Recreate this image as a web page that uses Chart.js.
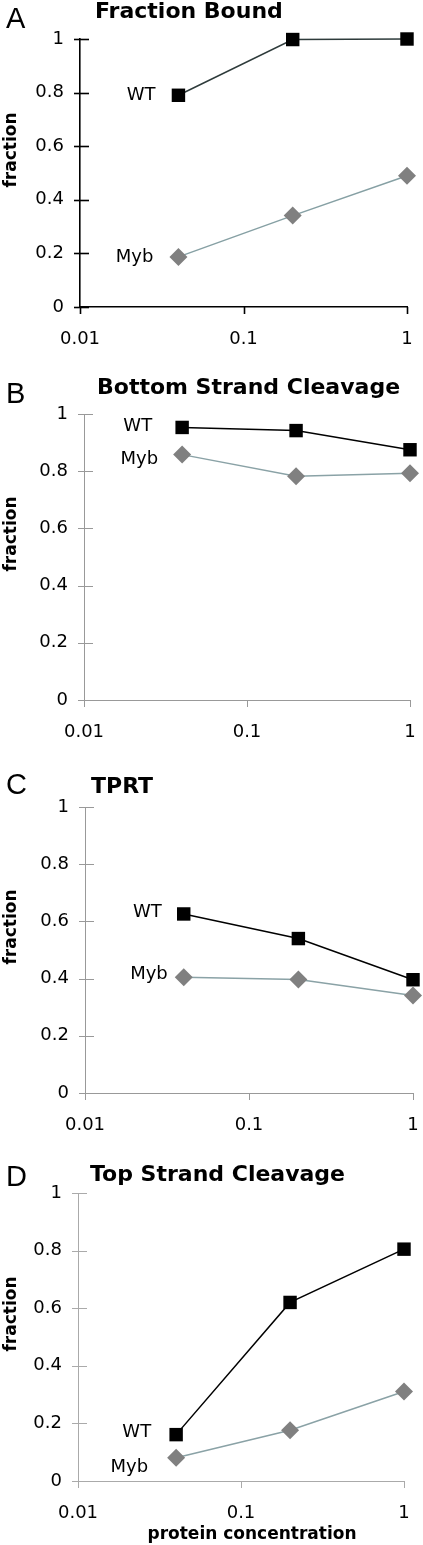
<!DOCTYPE html>
<html>
<head>
<meta charset="utf-8">
<script src="https://cdn.jsdelivr.net/npm/chart.js@4.4.1/dist/chart.umd.min.js"></script>
<style>
  body { margin: 0; background: #fff; width: 423px; height: 1545px; position: relative; overflow: hidden; }
  .panel { position: absolute; left: 0; width: 423px; }
</style>
</head>
<body>
<div class="panel" style="top:0;height:360px"><canvas id="chartA"></canvas></div>
<div class="panel" style="top:370px;height:375px"><canvas id="chartB"></canvas></div>
<div class="panel" style="top:750px;height:395px"><canvas id="chartC"></canvas></div>
<div class="panel" style="top:1150px;height:395px"><canvas id="chartD"></canvas></div>
<script>
// datos
const concentrations = [0.04, 0.2, 1];
const xTickValues = [0.01, 0.1, 1];
const yTickValues = [0, 0.2, 0.4, 0.6, 0.8, 1];
const seriesNames = ['WT', 'Myb'];
const panelLetters = ['A', 'B', 'C', 'D'];
const panelTitles = ['Fraction Bound', 'Bottom Strand Cleavage', 'TPRT', 'Top Strand Cleavage'];
const yAxisTitle = 'fraction';
const xAxisTitle = 'protein concentration';

const wtBound = [0.79, 0.998, 1.0];
const mybBound = [0.187, 0.341, 0.49];
const wtBottom = [0.953, 0.942, 0.875];
const mybBottom = [0.858, 0.782, 0.793];
const wtTprt = [0.626, 0.540, 0.396];
const mybTprt = [0.405, 0.397, 0.341];
const wtTop = [0.161, 0.620, 0.805];
const mybTop = [0.081, 0.176, 0.311];

const FONT = '"DejaVu Sans", Verdana, sans-serif';
Chart.defaults.font.family = FONT;
Chart.defaults.font.size = 18;
Chart.defaults.color = '#000';

const Y_W = 50, X_H = 45;

// anotaciones: letra, titulo, titulos de ejes y etiquetas WT/Myb
function annotPlugin(p) {
  return {
    id: 'annot' + p.letter,
    afterDraw(chart) {
      const ctx = chart.ctx, area = chart.chartArea;
      const xs = chart.scales.x, ys = chart.scales.y;
      ctx.save();
      // marcas de los ejes
      ctx.strokeStyle = p.axisColor;
      ctx.lineWidth = p.axisWidth;
      ys.ticks.forEach(t => {
        const py = Math.round(ys.getPixelForValue(t.value)) + 0.5;
        ctx.beginPath(); ctx.moveTo(area.left - 6, py); ctx.lineTo(area.left + 9, py); ctx.stroke();
      });
      xs.ticks.forEach(t => {
        const px = Math.round(xs.getPixelForValue(t.value)) + 0.5;
        ctx.beginPath(); ctx.moveTo(px, area.bottom); ctx.lineTo(px, area.bottom + 7); ctx.stroke();
      });
      ctx.fillStyle = '#000';
      ctx.textBaseline = 'alphabetic';
      ctx.textAlign = 'left';
      ctx.font = '29px "Liberation Sans", Arial, sans-serif';
      ctx.fillText(p.letter, 6, p.letterY);
      ctx.font = 'bold 22px ' + FONT;
      ctx.fillText(p.title, p.titleX, p.titleY);
      // titulo eje y
      ctx.save();
      ctx.font = 'bold 17px ' + FONT;
      ctx.translate(12, (area.top + area.bottom) / 2 - 23);
      ctx.rotate(-Math.PI / 2);
      ctx.textAlign = 'center';
      ctx.textBaseline = 'middle';
      ctx.fillText(yAxisTitle, 0, 0);
      ctx.restore();
      if (p.showXTitle) {
        ctx.font = 'bold 17px ' + FONT;
        ctx.textAlign = 'center';
        ctx.fillText(xAxisTitle, (area.left + area.right) / 2 + 11, p.xTitleY);
      }
      // etiquetas de las series junto al primer punto
      ctx.font = '18px ' + FONT;
      ctx.textAlign = 'right';
      p.labelOffsets.forEach((off, i) => {
        const vals = p.series[i];
        const px = xs.getPixelForValue(concentrations[0]);
        const py = ys.getPixelForValue(vals[0]);
        ctx.fillText(seriesNames[i], px + off[0], py + off[1]);
      });
      ctx.restore();
    }
  };
}

function makePanel(id, p) {
  const H = p.height;
  new Chart(document.getElementById(id), {
    type: 'line',
    data: {
      datasets: [{
        label: seriesNames[0],
        data: concentrations.map((c, i) => ({ x: c, y: p.series[0][i] })),
        borderColor: p.wtLine,
        borderWidth: 1.5,
        pointStyle: 'rect',
        pointRadius: 9.5,
        pointBackgroundColor: '#000',
        pointBorderWidth: 0,
        clip: false,
        order: 1
      }, {
        label: seriesNames[1],
        data: concentrations.map((c, i) => ({ x: c, y: p.series[1][i] })),
        borderColor: p.mybLine,
        borderWidth: 1.5,
        pointStyle: 'rectRot',
        pointRadius: 9,
        pointBackgroundColor: '#808080',
        pointBorderWidth: 0,
        clip: false,
        order: 0
      }]
    },
    options: {
      responsive: true,
      maintainAspectRatio: false,
      animation: false,
      layout: {
        padding: { left: p.area.left - Y_W, right: 423 - p.area.right, top: p.area.top, bottom: H - p.area.bottom - X_H }
      },
      plugins: { legend: { display: false }, tooltip: { enabled: false } },
      scales: {
        x: {
          type: 'logarithmic',
          min: 0.01, max: 1,
          afterBuildTicks: s => { s.ticks = xTickValues.map(v => ({ value: v })); },
          afterFit: s => { s.height = X_H; s.paddingLeft = 0; s.paddingRight = 0; },
          ticks: { callback: v => String(v), padding: 22, maxRotation: 0, autoSkip: false, font: { family: FONT, size: 18 } },
          grid: { display: false, drawTicks: false },
          border: { display: true, color: p.axisColor, width: p.axisWidth }
        },
        y: {
          min: 0, max: 1,
          afterBuildTicks: s => { s.ticks = yTickValues.map(v => ({ value: v })); },
          afterFit: s => { s.width = Y_W; s.paddingTop = 0; s.paddingBottom = 0; },
          ticks: { callback: v => String(v), padding: 16, font: { family: FONT, size: 18 } },
          grid: { display: false, drawTicks: false },
          border: { display: true, color: p.axisColor, width: p.axisWidth }
        }
      }
    },
    plugins: [annotPlugin(p)]
  });
}

makePanel('chartA', {
  letter: panelLetters[0], title: panelTitles[0], height: 360,
  area: { left: 80, right: 407, top: 39, bottom: 307 },
  letterY: 28, titleX: 95, titleY: 18,
  axisColor: '#000', axisWidth: 1.6, wtLine: '#2e3b3b', mybLine: '#86a0a4',
  series: [wtBound, mybBound], labelOffsets: [[-23, 5], [-25, 5]]
});
makePanel('chartB', {
  letter: panelLetters[1], title: panelTitles[1], height: 375,
  area: { left: 84, right: 410, top: 44, bottom: 330 },
  letterY: 33, titleX: 97, titleY: 24,
  axisColor: '#999', axisWidth: 1, wtLine: '#000', mybLine: '#8aa2a6',
  series: [wtBottom, mybBottom], labelOffsets: [[-30, 4], [-24, 9]]
});
makePanel('chartC', {
  letter: panelLetters[2], title: panelTitles[2], height: 395,
  area: { left: 85, right: 413, top: 57, bottom: 343 },
  letterY: 44, titleX: 91, titleY: 43,
  axisColor: '#999', axisWidth: 1, wtLine: '#000', mybLine: '#8aa2a6',
  series: [wtTprt, mybTprt], labelOffsets: [[-22, 3], [-16, 2]]
});
makePanel('chartD', {
  letter: panelLetters[3], title: panelTitles[3], height: 395,
  area: { left: 78, right: 404, top: 43, bottom: 331 },
  letterY: 36, titleX: 90, titleY: 31,
  axisColor: '#aaa', axisWidth: 1, wtLine: '#000', mybLine: '#8aa2a6',
  series: [wtTop, mybTop], labelOffsets: [[-25, 2], [-28, 14]],
  showXTitle: true, xTitleY: 389
});
</script>
</body>
</html>
